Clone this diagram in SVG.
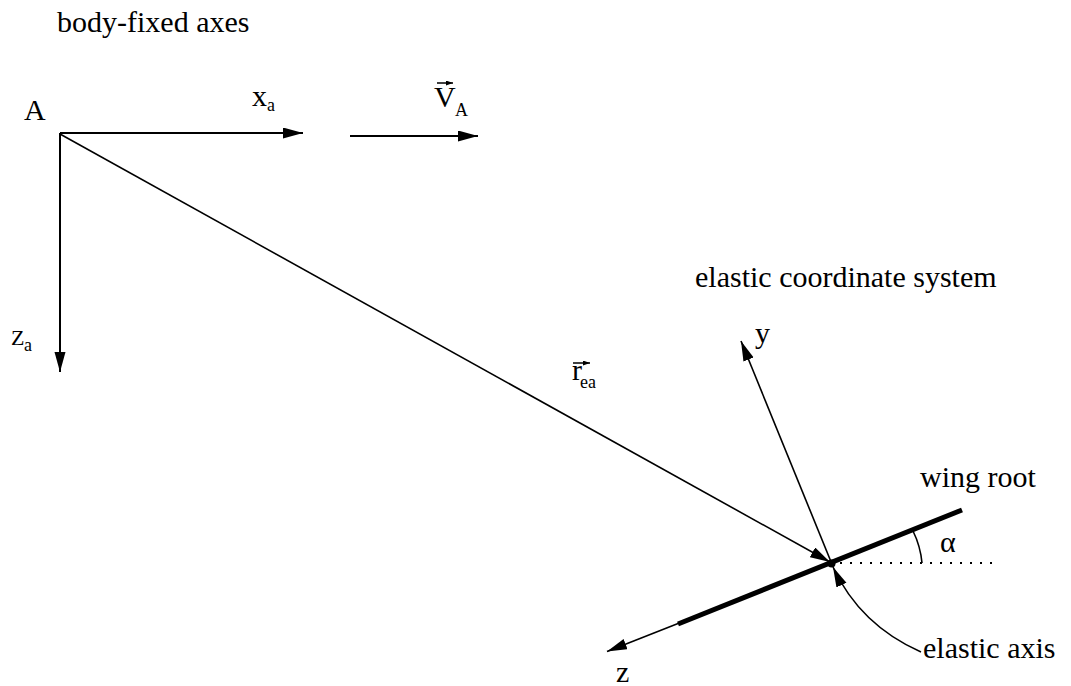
<svg xmlns="http://www.w3.org/2000/svg" width="1071" height="686" viewBox="0 0 1071 686">
<style>
text{font-family:"Liberation Serif","Times New Roman",serif;fill:#000}
.lbl{font-size:30px}
.sub{font-size:18px}
.ln{stroke:#000;fill:none}
</style>
<defs>
<marker id="ah" markerUnits="userSpaceOnUse" markerWidth="22" markerHeight="12" refX="20" refY="5.5" orient="auto">
<path d="M0,0 L20,5.5 L0,11 Z" fill="#000"/>
</marker>
<marker id="ahs" markerUnits="userSpaceOnUse" markerWidth="8" markerHeight="6" refX="7" refY="2.5" orient="auto">
<path d="M0,0 L7,2.5 L0,5 Z" fill="#000"/>
</marker>
</defs>
<rect width="1071" height="686" fill="#fff"/>
<g id="connectors">
<line class="ln" x1="60" y1="133" x2="303" y2="133" stroke-width="2" marker-end="url(#ah)"/>
<line class="ln" x1="60" y1="133" x2="60" y2="372" stroke-width="2" marker-end="url(#ah)"/>
<line class="ln" x1="350" y1="136" x2="478" y2="136" stroke-width="2" marker-end="url(#ah)"/>
<line class="ln" x1="60" y1="134" x2="830" y2="562" stroke-width="1.6" marker-end="url(#ah)"/>
<line class="ln" x1="831.5" y1="563" x2="741" y2="341" stroke-width="1.6" marker-end="url(#ah)"/>
<line class="ln" x1="831.5" y1="563" x2="607" y2="651.5" stroke-width="1.6" marker-end="url(#ah)"/>
<line class="ln" x1="678" y1="624" x2="962" y2="510" stroke-width="5"/>
<line class="ln" x1="840" y1="563" x2="995" y2="563" stroke-width="2" stroke-dasharray="2 8"/>
<path class="ln" d="M913,531 A91,91 0 0 1 922,563" stroke-width="1.6"/>
<path class="ln" d="M921,652 Q860,625 833,567" stroke-width="1.6" marker-end="url(#ah)"/>
<circle cx="831.5" cy="563.5" r="4" fill="#000"/>
</g>
<g id="title-body">
<text class="lbl" x="57" y="32">body-fixed axes</text>
</g>
<g id="node-A">
<text class="lbl" x="24" y="120">A</text>
</g>
<g id="label-xa">
<text class="lbl" x="252" y="106">x</text><text class="sub" x="267" y="111">a</text>
</g>
<g id="label-za">
<text x="11" y="345" style="font-size:22px">Z</text><text class="sub" x="24" y="351">a</text>
</g>
<g id="label-VA">
<text class="lbl" x="434" y="107">V</text><text class="sub" x="455" y="116">A</text>
<line class="ln" x1="437" y1="83" x2="453" y2="83" stroke-width="1.5" marker-end="url(#ahs)"/>
</g>
<g id="label-rea">
<text class="lbl" x="572" y="380">r</text><text class="sub" x="580" y="388">ea</text>
<line class="ln" x1="573" y1="363" x2="590" y2="363" stroke-width="1.5" marker-end="url(#ahs)"/>
</g>
<g id="title-elastic">
<text class="lbl" x="695" y="287">elastic coordinate system</text>
</g>
<g id="label-y">
<text class="lbl" x="755" y="343">y</text>
</g>
<g id="label-z">
<text class="lbl" x="616" y="682">z</text>
</g>
<g id="label-wing">
<text class="lbl" x="920" y="487">wing root</text>
</g>
<g id="label-alpha">
<text class="lbl" x="940" y="552">α</text>
</g>
<g id="label-elastic-axis">
<text class="lbl" x="923" y="658">elastic axis</text>
</g>
</svg>
